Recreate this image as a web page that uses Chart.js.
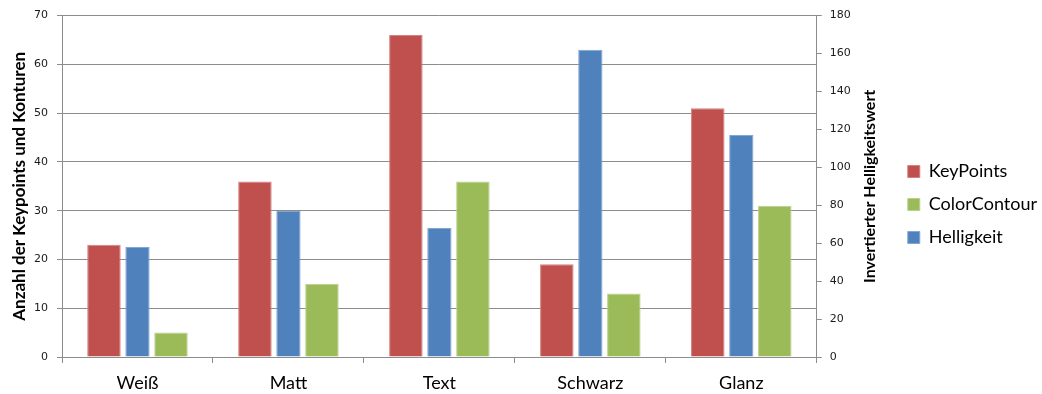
<!DOCTYPE html>
<html>
<head>
<meta charset="utf-8">
<script src="https://cdn.jsdelivr.net/npm/chart.js@4.4.0/dist/chart.umd.min.js"></script>
<style>
  html, body { margin: 0; padding: 0; background: #ffffff; }
  #c { display: block; }
</style>
</head>
<body>
<canvas id="c" width="1042" height="394"></canvas>
<script>
// Surface types
const categories = ['Weiß', 'Matt', 'Text', 'Schwarz', 'Glanz'];
// Counts (left axis)
const keyPoints = [23, 36, 66, 19, 51];
const colorContour = [5, 15, 36, 13, 31];
// Inverted brightness (right axis)
const helligkeit = [58, 77, 68, 162, 117];

const leftTicks = { min: 0, max: 70, step: 10 };
const rightTicks = { min: 0, max: 180, step: 20 };

const FONT = 'Lato, "Open Sans", "DejaVu Sans", sans-serif';
const TICK_FONT = '"DejaVu Sans", Lato, sans-serif';
const GRID = '#8c8c8c';
const legendOrder = ['KeyPoints', 'ColorContour', 'Helligkeit'];

// Right axis title, reading bottom-to-top like the left one
const rightTitle = {
  id: 'rightTitle',
  afterDraw(chart, args, opts) {
    const { ctx, chartArea } = chart;
    ctx.save();
    ctx.translate(opts.x, (chartArea.top + chartArea.bottom) / 2);
    ctx.rotate(-Math.PI / 2);
    ctx.font = 'bold ' + opts.size + 'px ' + FONT;
    ctx.fillStyle = '#000';
    ctx.textAlign = 'center';
    ctx.textBaseline = 'middle';
    ctx.fillText(opts.text, 0, 0);
    ctx.restore();
  }
};

new Chart(document.getElementById('c'), {
  type: 'bar',
  data: {
    labels: categories,
    datasets: [
      { label: 'KeyPoints', data: keyPoints, yAxisID: 'y',
        backgroundColor: '#C0504D', borderColor: '#D08482', borderWidth: 1,
        barPercentage: 1.0, categoryPercentage: 0.666 },
      { label: 'Helligkeit', data: helligkeit, yAxisID: 'y1',
        backgroundColor: '#4F81BD', borderColor: '#84A7D2', borderWidth: 1,
        barPercentage: 0.725, categoryPercentage: 0.666 },
      { label: 'ColorContour', data: colorContour, yAxisID: 'y',
        backgroundColor: '#9BBB59', borderColor: '#BBD18E', borderWidth: 1,
        barPercentage: 1.0, categoryPercentage: 0.666 }
    ]
  },
  options: {
    responsive: false,
    animation: false,
    devicePixelRatio: 1,
    layout: { padding: { top: 15, right: -5, bottom: 0, left: 0 } },
    plugins: {
      tooltip: { enabled: false },
      legend: {
        position: 'right',
        align: 'center',
        labels: {
          boxWidth: 12, boxHeight: 12, padding: 15,
          color: '#000',
          font: { family: FONT, size: 18 },
          sort: (a, b) => legendOrder.indexOf(a.text) - legendOrder.indexOf(b.text)
        }
      },
      rightTitle: { x: 870, size: 16, text: 'Invertierter Helligkeitswert' }
    },
    scales: {
      x: {
        grid: { display: true, drawOnChartArea: false, drawTicks: true, tickLength: 6, color: GRID, offset: true },
        border: { display: true, color: GRID },
        ticks: { color: '#000', font: { family: FONT, size: 18 }, padding: 9, maxRotation: 0 },
        afterFit: s => { s.height = 37; }
      },
      y: {
        position: 'left',
        min: leftTicks.min, max: leftTicks.max,
        ticks: { stepSize: leftTicks.step, color: '#1a1a1a', font: { family: TICK_FONT, size: 11 }, padding: 9 },
        grid: { color: GRID, tickLength: 5 },
        border: { display: true, color: GRID },
        title: { display: true, text: 'Anzahl der Keypoints und Konturen', color: '#000',
                 font: { family: FONT, size: 17, weight: 'bold' }, padding: { top: 9, bottom: 0 } },
        afterFit: s => { s.width = 62; }
      },
      y1: {
        position: 'right',
        min: rightTicks.min, max: rightTicks.max,
        ticks: { stepSize: rightTicks.step, color: '#1a1a1a', font: { family: TICK_FONT, size: 11 }, padding: 8 },
        grid: { color: GRID, tickLength: 5, drawOnChartArea: false },
        border: { display: true, color: GRID },
        afterFit: s => { s.width = 76; }
      }
    }
  },
  plugins: [rightTitle]
});
</script>
</body>
</html>
